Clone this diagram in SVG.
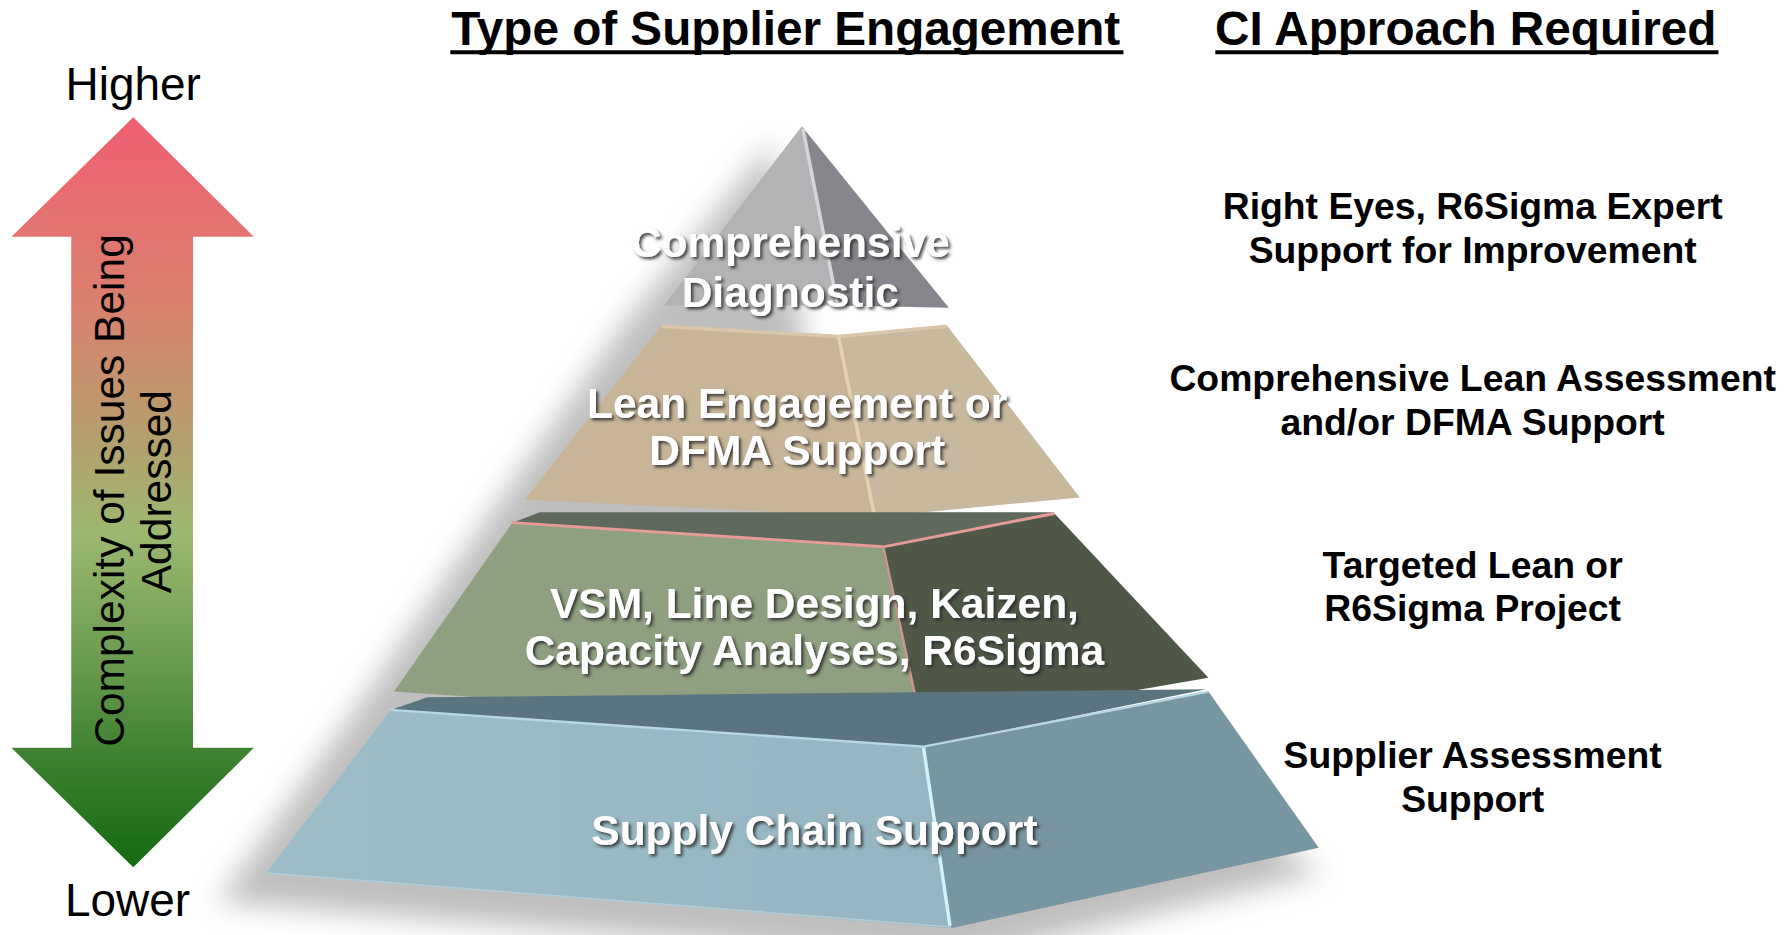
<svg xmlns="http://www.w3.org/2000/svg" width="1792" height="935" viewBox="0 0 1792 935">
<defs>
<linearGradient id="arrowGrad" x1="0" y1="103" x2="0" y2="758" gradientUnits="userSpaceOnUse">
<stop offset="0" stop-color="#F05F72"/>
<stop offset="0.25" stop-color="#D9816E"/>
<stop offset="0.42" stop-color="#B59E6E"/>
<stop offset="0.55" stop-color="#9DB870"/>
<stop offset="0.72" stop-color="#6A9C50"/>
<stop offset="0.86" stop-color="#3A7E2E"/>
<stop offset="1" stop-color="#146912"/>
</linearGradient>
<linearGradient id="blueL" x1="0" y1="0" x2="1" y2="0">
<stop offset="0" stop-color="#9CBDC8"/>
<stop offset="1" stop-color="#94B5C1"/>
</linearGradient>
<filter id="blur" x="-20%" y="-20%" width="140%" height="140%">
<feGaussianBlur stdDeviation="12"/>
</filter>
<filter id="txtShadow" x="-10%" y="-30%" width="120%" height="160%">
<feDropShadow dx="2" dy="2" stdDeviation="1.2" flood-color="#2a2a2a" flood-opacity="0.85"/>
</filter>
<style>
.ax{font-family:"Liberation Sans",Arial,sans-serif;fill:#000;}
.title{font-family:"Liberation Sans",Arial,sans-serif;font-weight:bold;font-size:41.5px;fill:#000;text-anchor:middle;}
.rt{font-family:"Liberation Sans",Arial,sans-serif;font-weight:bold;font-size:32.5px;fill:#000;text-anchor:middle;}
.pl{font-family:"Liberation Sans",Arial,sans-serif;font-weight:bold;font-size:37px;fill:#fff;text-anchor:middle;filter:url(#txtShadow);}
.ul{stroke:#000;stroke-width:3.5;}
</style>
</defs>
<g transform="scale(1.148718)">
<g id="complexity-arrow">
<path d="M116,102 L221,206 L168,206 L168,651 L221,651 L116,755 L10,651 L62,651 L62,206 L10,206 Z" fill="url(#arrowGrad)"/>
<text class="ax" font-size="37" text-anchor="middle" transform="translate(108,427) rotate(-90)">Complexity of Issues Being</text>
<text class="ax" font-size="37" text-anchor="middle" transform="translate(149,428) rotate(-90)">Addressed</text>
</g>
<g id="label-higher"><text class="ax" font-size="40" x="116" y="87" text-anchor="middle">Higher</text></g>
<g id="label-lower"><text class="ax" font-size="40" x="111" y="797" text-anchor="middle">Lower</text></g>
<g id="title-engagement">
<text class="title" x="684" y="39">Type of Supplier Engagement</text>
<line class="ul" x1="392" y1="45.5" x2="978" y2="45.5"/>
</g>
<g id="title-ci">
<text class="title" x="1276" y="39">CI Approach Required</text>
<line class="ul" x1="1058" y1="45.5" x2="1496" y2="45.5"/>
</g>
<g id="pyramid-shadow">
<polygon points="672,125 545,280 425,450 305,625 190,785 830,838 1150,760 900,600 700,300" fill="#8a8a8a" opacity="0.55" filter="url(#blur)"/>
</g>
<g id="tier-diagnostic">
<polygon points="698,110 578,266 730,266" fill="#B3B3B5"/>
<polygon points="698,110 730,266 826,268" fill="#86868D"/>
<line x1="699" y1="112" x2="729" y2="265" stroke="#D6D6DA" stroke-width="3"/>
<text class="pl" x="688" y="224">Comprehensive</text>
<text class="pl" x="688" y="267">Diagnostic</text>
</g>
<g id="tier-lean">
<polygon points="576,283 730,292 762,450 457,435" fill="#C8B597"/>
<polygon points="730,292 824,283 940,433 762,450" fill="#C8B89E"/>
<polyline points="576,284 730,293 824,284" fill="none" stroke="#D9C7A9" stroke-width="3"/>
<line x1="730" y1="293" x2="761" y2="448" stroke="#E6D2AE" stroke-width="3"/>
<text class="pl" x="694" y="364">Lean Engagement or</text>
<text class="pl" x="694" y="405">DFMA Support</text>
</g>
<g id="tier-vsm">
<polygon points="470,446 918,446 769,476 446,455" fill="#5F6A5D"/>
<polygon points="446,455 769,476 803,633 343,602" fill="#8FA080"/>
<polygon points="769,476 918,447 1052,590 803,633" fill="#4F5847"/>
<polyline points="446,455 769,476 918,447" fill="none" stroke="#E89A96" stroke-width="2.5"/>
<line x1="769" y1="476" x2="802" y2="630" stroke="#D4948E" stroke-width="2"/>
<text class="pl" x="709" y="538">VSM, Line Design, Kaizen,</text>
<text class="pl" x="709" y="579">Capacity Analyses, R6Sigma</text>
</g>
<g id="tier-supply">
<polygon points="372,607 1050,600 804,650 340,618" fill="#5B7580"/>
<polygon points="340,618 804,650 828,808 232,760" fill="url(#blueL)"/>
<polygon points="804,650 1052,602 1148,738 828,808" fill="#7896A2"/>
<polyline points="340,618 804,650 1052,602" fill="none" stroke="#B6D8E4" stroke-width="2"/>
<line x1="804" y1="651" x2="827" y2="806" stroke="#D0F2FA" stroke-width="3"/>
<line x1="233" y1="760" x2="828" y2="807" stroke="#B0CCD6" stroke-width="1.5"/>
<text class="pl" x="709" y="736">Supply Chain Support</text>
</g>
<g id="ci-right-eyes">
<text class="rt" x="1282" y="191">Right Eyes, R6Sigma Expert</text>
<text class="rt" x="1282" y="229">Support for Improvement</text>
</g>
<g id="ci-lean-assessment">
<text class="rt" x="1282" y="340">Comprehensive Lean Assessment</text>
<text class="rt" x="1282" y="379">and/or DFMA Support</text>
</g>
<g id="ci-targeted">
<text class="rt" x="1282" y="503">Targeted Lean or</text>
<text class="rt" x="1282" y="541">R6Sigma Project</text>
</g>
<g id="ci-supplier">
<text class="rt" x="1282" y="669">Supplier Assessment</text>
<text class="rt" x="1282" y="707">Support</text>
</g>
<g id="connectors"/>
</g>
</svg>
